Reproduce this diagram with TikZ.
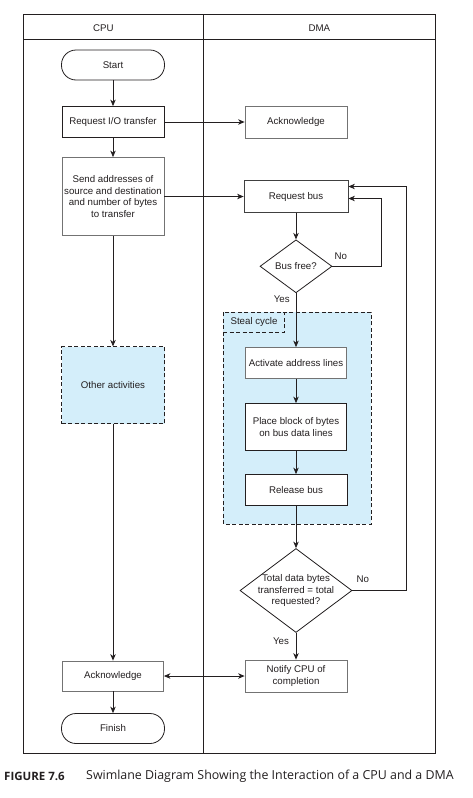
\documentclass[tikz,border=0pt]{standalone}
\usepackage{fontspec}
\setmainfont{Liberation Sans}
\newfontfamily\capfont{Open Sans}
\usetikzlibrary{shapes.geometric,arrows.meta}
\definecolor{lane}{HTML}{D4EEFA}
\definecolor{ink}{HTML}{231F20}
\newcommand{\lbl}{\fontsize{9.7}{11.6}\selectfont}
\tikzset{
  box/.style={draw=ink, line width=0.8pt, fill=white, font=\lbl, text=ink, align=center, inner sep=1pt},
  gbox/.style={box, draw=black!55},
  term/.style={box, rounded corners=14.5pt},
  dashbox/.style={draw=ink, line width=0.8pt, dash pattern=on 4pt off 2.5pt, fill=lane},
  dec/.style={draw=ink, line width=0.8pt, shape=diamond, inner sep=0pt, fill=white},
  arr/.style={draw=ink, line width=0.8pt, -{Stealth[length=6.5pt,width=5.5pt,inset=2pt]}},
  darr/.style={draw=ink, line width=0.8pt, {Stealth[length=6.5pt,width=5.5pt,inset=2pt]}-{Stealth[length=6.5pt,width=5.5pt,inset=2pt]}},
  txt/.style={font=\lbl, text=ink, inner sep=0pt, align=center},
  frame/.style={draw=ink, line width=0.8pt}
}
\begin{document}
\begin{tikzpicture}[x=1pt,y=-1pt]
\useasboundingbox (0,0) rectangle (472,798);
% frame
\draw[frame] (23.3,14.3) rectangle (435.3,753);
\draw[frame] (23.3,39.3) -- (435.3,39.3);
\draw[frame] (203.3,14.3) -- (203.3,753);
\node[txt] (hcpu) at (103.3,28) {CPU};
\node[txt] (hdma) at (319.3,28) {DMA};
% steal cycle region
\draw[dashbox] (223.3,312.3) rectangle (371.3,524.3);
\draw[dashbox] (223.3,312.3) rectangle (284.3,332);
\node[txt] (steal) at (254,321.5) {Steal cycle};
% CPU lane
\node[term, minimum width=103pt, minimum height=30pt] (start) at (113,65) {Start};
\node[box, minimum width=102pt, minimum height=31pt] (reqio) at (113,122) {Request I/O transfer};
\node[gbox, minimum width=102pt, minimum height=78pt] (send) at (113,196.5) {Send addresses of\\source and destination\\and number of bytes\\to transfer};
\node[box, dashbox, font=\lbl, text=ink, minimum width=103pt, minimum height=77pt] (other) at (113,385.3) {Other activities};
\node[gbox, minimum width=101pt, minimum height=30pt] (ackcpu) at (113,676) {Acknowledge};
\node[term, minimum width=103pt, minimum height=30pt] (finish) at (113,728.5) {Finish};
% DMA lane
\node[gbox, minimum width=102pt, minimum height=32pt] (ackdma) at (296,122) {Acknowledge};
\node[box, draw=black!75, minimum width=104pt, minimum height=32pt] (reqbus) at (296,196.5) {Request bus};
\node[dec, minimum width=72pt, minimum height=53pt] (busfree) at (296,266.3) {};
\node[txt] (busfreet) at (busfree) {Bus free?};
\node[gbox, minimum width=101pt, minimum height=31pt] (activate) at (296,363) {Activate address lines};
\node[box, minimum width=101pt, minimum height=47pt] (place) at (296,427) {Place block of bytes\\on bus data lines};
\node[box, minimum width=102pt, minimum height=31pt] (release) at (296,490) {Release bus};
\node[dec, minimum width=112pt, minimum height=84pt] (total) at (296,590.5) {};
\node[txt] (totalt) at (total) {Total data bytes\\transferred = total\\requested?};
\node[gbox, minimum width=102pt, minimum height=32pt] (notify) at (296,676) {Notify CPU of\\completion};
% labels
\node[txt] (no1) at (340.7,256.7) {No};
\node[txt] (yes1) at (281.7,299.3) {Yes};
\node[txt] (no2) at (362.7,579.3) {No};
\node[txt] (yes2) at (281,641) {Yes};
% connectors
\draw[arr] (start) -- (reqio);
\draw[arr] (reqio) -- (send);
\draw[arr] (send) -- (other);
\draw[arr] (other) -- (ackcpu);
\draw[arr] (ackcpu) -- (finish);
\draw[arr] (reqio) -- (ackdma);
\draw[arr] (send) -- (reqbus);
\draw[arr] (reqbus) -- (busfree);
\draw[arr] (busfree) -- (activate);
\draw[arr] (activate) -- (place);
\draw[arr] (place) -- (release);
\draw[arr] (release) -- (total);
\draw[arr] (total) -- (notify);
\draw[darr] (ackcpu) -- (notify);
\draw[arr] (busfree.east) -- ++(49,0) |- ([yshift=-2pt]reqbus.east);
\draw[arr] (total.east) -- ++(54.3,0) |- ([yshift=10pt]reqbus.east);
% caption
\node[anchor=west, inner sep=0pt, font=\capfont\bfseries\fontsize{11.5}{13}\selectfont, text=ink] (figno) at (4,776) {FIGURE 7.6};
\node[anchor=west, inner sep=0pt, font=\capfont\fontsize{12.4}{15}\selectfont, text=ink] (cap) at (86,776) {Swimlane Diagram Showing the Interaction of a CPU and a DMA};
\end{tikzpicture}
\end{document}
